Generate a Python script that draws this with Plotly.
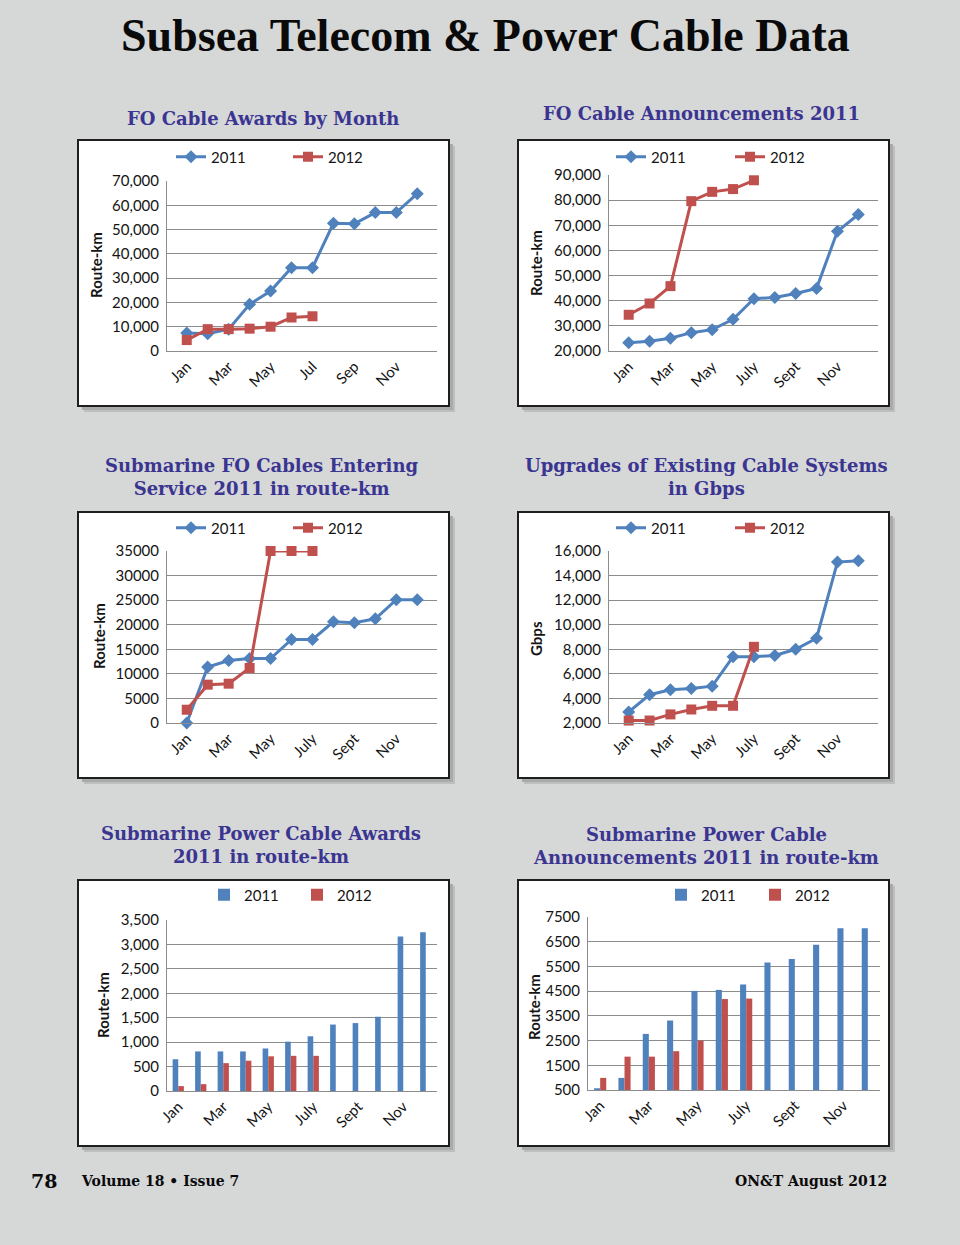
import plotly.graph_objects as go

W, H = 960, 1245

# ---------------- data ----------------
months_short = ["Jan", "Feb", "Mar", "Apr", "May", "Jun", "Jul", "Aug", "Sep", "Oct", "Nov", "Dec"]
months_long = ["Jan", "Feb", "Mar", "Apr", "May", "June", "July", "Aug", "Sept", "Oct", "Nov", "Dec"]
series_names = ["2011", "2012"]

awards_2011 = [7400, 7100, 9000, 19200, 24700, 34300, 34300, 52600, 52400, 57000, 57000, 64800]
awards_2012 = [4500, 9000, 9000, 9200, 10000, 13800, 14300]

announce_2011 = [23300, 23900, 25100, 27300, 28500, 32600, 40800, 41300, 42900, 44900, 67600, 74300]
announce_2012 = [34400, 38900, 45800, 79600, 83300, 84400, 87900]

service_2011 = [0, 11400, 12700, 13100, 13100, 17000, 17000, 20600, 20400, 21200, 25100, 25100]
service_2012 = [2700, 7800, 8000, 11200, 35000, 35000, 35000]

upgrades_2011 = [2900, 4300, 4700, 4800, 5000, 7400, 7400, 7500, 8000, 8900, 15100, 15200]
upgrades_2012 = [2200, 2200, 2700, 3100, 3400, 3400, 8200]

power_awards_2011 = [650, 810, 810, 810, 870, 1010, 1120, 1360, 1390, 1520, 3160, 3250]
power_awards_2012 = [100, 140, 570, 620, 710, 720, 720]

power_ann_2011 = [570, 990, 2770, 3310, 4510, 4550, 4770, 5660, 5800, 6380, 7040, 7040]
power_ann_2012 = [990, 1850, 1850, 2070, 2500, 4180, 4200]

main_title = "Subsea Telecom & Power Cable Data"
chart_titles = [
    "FO Cable Awards by Month",
    "FO Cable Announcements 2011",
    "Submarine FO Cables Entering<br>Service 2011 in route-km",
    "Upgrades of Existing Cable Systems<br>in Gbps",
    "Submarine Power Cable Awards<br>2011 in route-km",
    "Submarine Power Cable<br>Announcements 2011 in route-km",
]
y_titles = ["Route-km", "Route-km", "Route-km", "Gbps", "Route-km", "Route-km"]
footer_page = "78"
footer_issue = "Volume 18 • Issue 7"
footer_date = "ON&T August 2012"

# ---------------- styling / layout ----------------
BLUE = "#4F81BD"
RED = "#C0504D"
GRID = "#8c8c8c"
BG = "#d6d7d7"
TITLE_COLOR = "#3b3592"
SANS = "Lato, Open Sans, sans-serif"
TICK_FONT = dict(family=SANS, size=15, color="#141414")


def fx(px):
    return px / W


def fy(py):
    return 1 - py / H


charts = [
    dict(kind="line", cats=months_short, s=(awards_2011, awards_2012), yr=[0, 70000], dt=10000, fmt=",",
         box=(78, 140, 449, 406), plot=(167, 181, 437, 351), title_xy=(263, 118), yt_xy=(96, 265),
         leg=((171, 157), (288, 157))),
    dict(kind="line", cats=months_long, s=(announce_2011, announce_2012), yr=[20000, 90000], dt=10000, fmt=",",
         box=(518, 140, 889, 406), plot=(609, 175, 878, 351), title_xy=(701, 114), yt_xy=(536, 263),
         leg=((611, 157), (730, 157))),
    dict(kind="line", cats=months_long, s=(service_2011, service_2012), yr=[0, 35000], dt=5000, fmt="d",
         box=(78, 512, 449, 778), plot=(167, 551, 437, 723), title_xy=(261, 477), yt_xy=(99, 636),
         leg=((171, 528), (288, 528))),
    dict(kind="line", cats=months_long, s=(upgrades_2011, upgrades_2012), yr=[2000, 16000], dt=2000, fmt=",",
         box=(518, 512, 889, 778), plot=(609, 551, 878, 723), title_xy=(706, 477), yt_xy=(536, 639),
         leg=((611, 528), (730, 528))),
    dict(kind="bar", cats=months_long, s=(power_awards_2011, power_awards_2012), yr=[0, 3500], dt=500, fmt=",",
         box=(78, 880, 449, 1146), plot=(167, 920, 437, 1091), title_xy=(261, 845), yt_xy=(103, 1005),
         leg=((204, 895), (297, 895))),
    dict(kind="bar", cats=months_long, s=(power_ann_2011, power_ann_2012), yr=[500, 7500], dt=1000, fmt="d",
         box=(518, 880, 889, 1146), plot=(588, 917, 880, 1090), title_xy=(706, 846), yt_xy=(534, 1007),
         leg=((661, 895), (755, 895))),
]

fig = go.Figure()
shapes = []
annotations = []
layout_axes = {}
legends = {}

for i, c in enumerate(charts):
    n = i + 1
    xa = "x" if n == 1 else f"x{n}"
    ya = "y" if n == 1 else f"y{n}"
    bx0, by0, bx1, by1 = c["box"]
    # soft drop shadow + white framed panel
    for off, col in ((6, "#bdbebe"), (4, "#a9aaaa")):
        shapes.append(dict(type="rect", xref="paper", yref="paper", layer="below",
                           x0=fx(bx0 + off), x1=fx(bx1 + off), y0=fy(by1 + off), y1=fy(by0 + off),
                           fillcolor=col, line=dict(width=0)))
    shapes.append(dict(type="rect", xref="paper", yref="paper", layer="below",
                       x0=fx(bx0), x1=fx(bx1), y0=fy(by1), y1=fy(by0),
                       fillcolor="white", line=dict(color="#1e1e1e", width=2)))

    px0, py0, px1, py1 = c["plot"]
    cats = c["cats"]
    for j, (vals, name, color) in enumerate(zip(c["s"], series_names, (BLUE, RED))):
        leg_id = "legend" if (2 * i + j) == 0 else f"legend{2 * i + j + 1}"
        if c["kind"] == "line":
            fig.add_trace(go.Scatter(
                x=cats[:len(vals)], y=vals, name=name, mode="lines+markers",
                line=dict(color=color, width=3),
                marker=dict(symbol="diamond" if j == 0 else "square", size=10, color=color),
                cliponaxis=False, xaxis=xa, yaxis=ya, legend=leg_id, showlegend=True))
        else:
            fig.add_trace(go.Bar(
                x=cats[:len(vals)], y=vals, name=name, marker=dict(color=color, line=dict(width=0)),
                xaxis=xa, yaxis=ya, legend=leg_id, offsetgroup=str(j), showlegend=True))
        lx, ly = c["leg"][j]
        legends[leg_id] = dict(x=fx(lx), y=fy(ly), xanchor="left", yanchor="middle",
                               orientation="h", bgcolor="rgba(0,0,0,0)", visible=True,
                               font=dict(family=SANS, size=15, color="#141414"),
                               itemclick=False, itemdoubleclick=False)

    xkey = "xaxis" if n == 1 else f"xaxis{n}"
    ykey = "yaxis" if n == 1 else f"yaxis{n}"
    layout_axes[xkey] = dict(domain=[fx(px0), fx(px1)], anchor=ya, type="category",
                             categoryorder="array", categoryarray=cats,
                             tickmode="array", tickvals=cats[::2], ticktext=cats[::2],
                             tickangle=-45, tickfont=TICK_FONT, showgrid=False, automargin=False,
                             showline=True, linecolor=GRID, linewidth=1, ticks="", fixedrange=True)
    layout_axes[ykey] = dict(domain=[fy(py1), fy(py0)], anchor=xa, range=c["yr"], dtick=c["dt"],
                             tick0=c["yr"][0], tickformat=c["fmt"], tickfont=TICK_FONT,
                             showgrid=True, gridcolor=GRID, gridwidth=1, zeroline=False,
                             showline=True, linecolor=GRID, linewidth=1, ticks="", automargin=False,
                             ticklabelstandoff=4, fixedrange=True)

    tx, ty = c["title_xy"]
    annotations.append(dict(text=chart_titles[i], xref="paper", yref="paper", x=fx(tx), y=fy(ty),
                            xanchor="center", yanchor="middle", showarrow=False, align="center",
                            font=dict(family="DejaVu Serif, serif", size=18, color=TITLE_COLOR,
                                      weight="bold")))
    yx, yy = c["yt_xy"]
    annotations.append(dict(text=y_titles[i], xref="paper", yref="paper", x=fx(yx), y=fy(yy),
                            xanchor="center", yanchor="middle", showarrow=False, textangle=-90,
                            font=dict(family=SANS, size=15, color="#141414", weight="bold")))

annotations.append(dict(text=main_title, xref="paper", yref="paper", x=fx(485), y=fy(35),
                        xanchor="center", yanchor="middle", showarrow=False,
                        font=dict(family="Liberation Serif, serif", size=46, color="#0a0a0a",
                                  weight="bold")))
annotations.append(dict(text=footer_page, xref="paper", yref="paper", x=fx(29), y=fy(1181),
                        xanchor="left", yanchor="middle", showarrow=False,
                        font=dict(family="DejaVu Serif, serif", size=19, color="#0a0a0a", weight="bold")))
annotations.append(dict(text=footer_issue, xref="paper", yref="paper", x=fx(79), y=fy(1181),
                        xanchor="left", yanchor="middle", showarrow=False,
                        font=dict(family="DejaVu Serif, serif", size=14, color="#0a0a0a", weight="bold")))
annotations.append(dict(text=footer_date, xref="paper", yref="paper", x=fx(889), y=fy(1181),
                        xanchor="right", yanchor="middle", showarrow=False,
                        font=dict(family="DejaVu Serif, serif", size=14, color="#0a0a0a", weight="bold")))

fig.update_layout(
    width=W, height=H, autosize=False, showlegend=True,
    margin=dict(l=0, r=0, t=0, b=0, pad=0, autoexpand=False),
    paper_bgcolor=BG, plot_bgcolor="white",
    barmode="group", bargap=0.5, bargroupgap=0.0,
    shapes=shapes, annotations=annotations,
    **layout_axes, **legends,
)

page_css = (
    "var s=document.createElement('style');"
    "s.textContent='html,body{margin:0;padding:0;overflow:hidden;background:" + BG + ";}';"
    "document.head.appendChild(s);"
)

fig.write_html(
    "out.html",
    config={"displayModeBar": False, "responsive": False},
    post_script=page_css,
)
